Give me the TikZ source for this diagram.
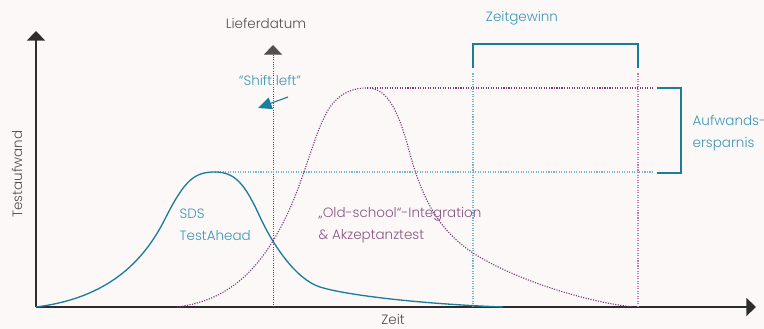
\documentclass[tikz,border=0pt]{standalone}
\usepackage{fontspec}
\setmainfont{Poppins Light}
\usetikzlibrary{arrows.meta}

\definecolor{bgpaper}{RGB}{252,248,248}
\definecolor{axisgray}{RGB}{45,45,45}
\definecolor{labelgray}{RGB}{80,80,80}
\definecolor{tealline}{RGB}{27,125,155}
\definecolor{tealtext}{RGB}{60,150,180}
\definecolor{tealdot}{RGB}{115,180,205}
\definecolor{purpline}{RGB}{120,55,115}
\definecolor{purptext}{RGB}{135,85,130}
\definecolor{purpdot}{RGB}{185,130,175}

\tikzset{
  axis/.style={axisgray, line width=0.33mm, -{Triangle[width=4.5mm,length=2.4mm]}},
  dotline/.style={densely dotted, line width=0.28mm},
  bracket/.style={tealline, line width=0.33mm},
  lbl/.style={inner sep=1pt}
}

\begin{document}
\begin{tikzpicture}[x=0.25mm,y=0.25mm, font=\fontsize{9.6}{16}\selectfont]
  \fill[bgpaper] (0,0) rectangle (764,329);
  \useasboundingbox (0,0) rectangle (764,329);

  % axes
  \coordinate (O) at (36,22);
  \coordinate (ytop) at (36,298);
  \coordinate (xend) at (756,22);
  \draw[axis] (O) -- (ytop);
  \draw[axis] (O) -- (xend);
  \node[lbl, rotate=90, text=labelgray] (yl) at (17,155) {Testaufwand};
  \node[lbl, text=labelgray] (xl) at (393,10) {Zeit};

  % Lieferdatum
  \coordinate (lfoot) at (273,22);
  \coordinate (ltop) at (273,284);
  \draw[dotline, line width=0.22mm, labelgray, -{Triangle[width=4.5mm,length=2.4mm]}] (lfoot) -- (ltop);
  \node[lbl, text=labelgray] (lief) at (266,306) {Lieferdatum};

  % shift left
  \node[lbl, text=tealtext] (shift) at (270,249) {“Shift left”};
  \coordinate (sa) at (288,232);
  \coordinate (sb) at (258,221);
  \draw[tealline, line width=0.28mm, -{Triangle[width=3mm,length=3.4mm]}] (sa) -- (sb);

  % helper lines
  \coordinate (tpeak) at (215,157);
  \coordinate (ppeak) at (367,241);
  \coordinate (tend) at (653,157);
  \coordinate (pend) at (653,241);
  \draw[dotline, tealdot] (tpeak) -- (tend);
  \draw[dotline, purpline] (ppeak) -- (pend);
  \coordinate (g1) at (473,22);
  \coordinate (g1t) at (473,256);
  \coordinate (g2) at (638,22);
  \coordinate (g2t) at (638,256);
  \draw[dotline, tealdot] (g1) -- (g1t);
  \draw[dotline, purpdot] (g2) -- (g2t);

  % curves
  \draw[tealline, line width=0.33mm] (O) .. controls (100,30) and (140,60) .. (165,110)
    .. controls (185,150) and (195,157) .. (tpeak)
    .. controls (235,157) and (245,145) .. (260,112)
    .. controls (272,86) and (295,50) .. (320,42)
    .. controls (345,34) and (420,25) .. (503,22);
  \draw[dotline, purpline] (177,22) .. controls (225,28) and (258,55) .. (285,110)
    .. controls (305,150) and (315,200) .. (330,222)
    .. controls (342,238) and (355,241) .. (ppeak)
    .. controls (385,241) and (397,225) .. (410,175)
    .. controls (425,120) and (445,95) .. (473,76)
    .. controls (510,52) and (580,28) .. (633,22);

  % brackets
  \coordinate (z1) at (473,261);
  \coordinate (z2) at (638,261);
  \draw[bracket] (z1) -- (473,285) -- (638,285) -- (z2);
  \node[lbl, text=tealtext] (gain) at (522,311) {Zeitgewinn};
  \coordinate (a1) at (657,241);
  \coordinate (a2) at (657,156);
  \draw[bracket] (a1) -- (681,241) -- (681,156) -- (a2);
  \node[lbl, text=tealtext, align=left, anchor=west] (save) at (691,196) {Aufwands-\\ersparnis};

  % curve labels
  \node[lbl, text=tealtext, align=left, anchor=west] (sds) at (178,104) {SDS\\TestAhead};
  \node[lbl, text=purptext, align=left, anchor=west] (old) at (317,104) {„Old-school“-Integration\\\& Akzeptanztest};
\end{tikzpicture}
\end{document}
